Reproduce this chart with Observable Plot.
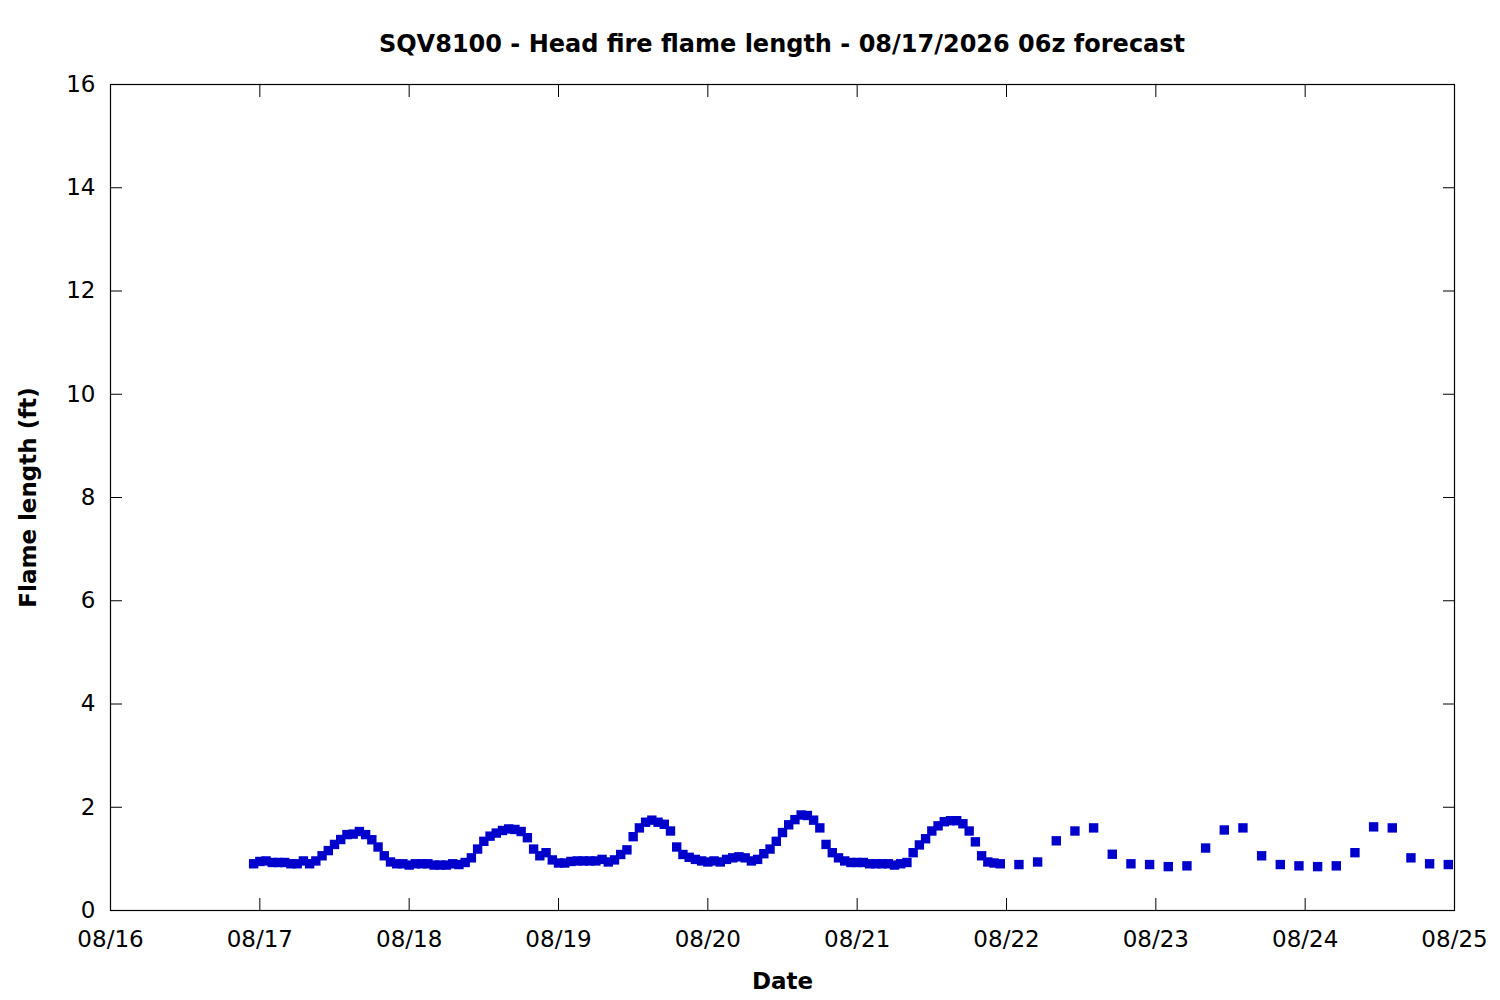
<!DOCTYPE html>
<html><head><meta charset="utf-8">
<script src="https://cdn.jsdelivr.net/npm/d3@7"></script>
<script src="https://cdn.jsdelivr.net/npm/@observablehq/plot@0.6"></script>
<style>
body{margin:0;background:#fff;font-family:"DejaVu Sans",sans-serif;}
#wrap{position:relative;width:1500px;height:1000px;}
#title{position:relative;height:60px;}
#title span{position:absolute;left:110px;width:1344px;top:32px;text-align:center;font:bold 24px/24px "DejaVu Sans";color:#000;white-space:nowrap;}
</style>
</head><body>
<div id="wrap"><div id="title"><span id="titletext"></span></div><div id="chart"></div></div>
<script>
const titleText = "SQV8100 - Head fire flame length - 08/17/2026 06z forecast";
const xLabel = "Date";
const yLabel = "Flame length (ft)";
const tickDates = ["2026-08-16","2026-08-17","2026-08-18","2026-08-19","2026-08-20","2026-08-21","2026-08-22","2026-08-23","2026-08-24","2026-08-25"];
const tickLabels = ["08/16","08/17","08/18","08/19","08/20","08/21","08/22","08/23","08/24","08/25"];
const yTicks = [0,2,4,6,8,10,12,14,16];

// hourly forecast, starting 08/16 23:00
const hourlyStart = "2026-08-16T23:00:00Z";
const hourlyFlame = [
  0.905,0.95,0.96,0.93,0.93,0.93,0.905,0.905,0.96,0.905,
  0.96,1.06,1.16,1.28,1.375,1.47,1.48,1.53,1.47,1.37,
  1.23,1.06,0.94,0.905,0.905,0.88,0.905,0.905,0.905,0.88,
  0.88,0.88,0.905,0.89,0.93,1.02,1.19,1.34,1.44,1.50,
  1.55,1.58,1.57,1.53,1.41,1.19,1.06,1.12,0.98,0.92,
  0.92,
  0.95,0.96,0.96,0.96,0.96,0.99,0.94,0.98,1.085,1.175,
  1.43,1.60,1.71,1.75,1.71,1.67,1.54,1.23,1.085,1.03,
  0.99,0.96,0.94,0.96,0.94,0.99,1.02,1.04,1.02,0.96,
  0.99,1.10,1.19,1.34,1.51,1.66,1.76,1.85,1.84,1.75,
  1.60,1.28,1.12,1.02,0.96,0.93,0.93,0.93,0.905,0.905,
  0.905,0.905,
  0.88,0.905,0.93,1.12,1.27,1.39,1.54,1.64,1.72,1.74,
  1.74,1.68,1.54,1.33,1.06,0.94,0.92,0.905
];
// 3-hourly forecast, starting 08/22 02:00
const threeHourlyStart = "2026-08-22T02:00:00Z";
const threeHourlyFlame = [
  0.89,0.94,1.35,1.54,1.60,1.09,0.905,0.89,
  0.85,0.865,1.21,1.56,1.60,1.06,0.89,0.865,
  0.85,0.865,1.12,1.62,1.60,1.02,0.905,0.89
];

document.getElementById("titletext").textContent = titleText;

const H = 3600e3;
const data = [
  ...hourlyFlame.map((v,i)=>({time:new Date(+new Date(hourlyStart)+i*H), flame:v})),
  ...threeHourlyFlame.map((v,i)=>({time:new Date(+new Date(threeHourlyStart)+i*3*H), flame:v}))
];
const ticks = tickDates.map(d=>new Date(d+"T00:00:00Z"));
const fmt = d => { const i = ticks.findIndex(t=>+t===+d); return i>=0 ? tickLabels[i] : ""; };

const chart = Plot.plot({
  width:1500, height:940,
  marginTop:24, marginRight:46, marginBottom:90, marginLeft:110,
  style:{fontFamily:"DejaVu Sans", fontSize:"23px", color:"black", background:"white"},
  x:{type:"utc", domain:[ticks[0], ticks[ticks.length-1]]},
  y:{domain:[0,16]},
  marks:[
    Plot.axisX({ticks, tickFormat:fmt, tickSize:-12, tickPadding:32, label:null}),
    Plot.axisX({anchor:"top", ticks, tickFormat:()=>"", tickSize:-12, label:null}),
    Plot.axisY({ticks:yTicks, tickSize:-12, tickPadding:27, label:null}),
    Plot.axisY({anchor:"right", ticks:yTicks, tickFormat:()=>"", tickSize:-12, label:null}),
    Plot.frame({stroke:"black", strokeWidth:1.2}),
    Plot.dot(data, {x:"time", y:"flame", symbol:"square", r:5.3, fill:"#0000cc"}),
    Plot.text([yLabel], {frameAnchor:"left", dx:-82, rotate:-90, textAnchor:"middle", fontWeight:"bold", fontSize:23}),
    Plot.text([xLabel], {frameAnchor:"bottom", dy:78, textAnchor:"middle", fontWeight:"bold", fontSize:23})
  ]
});
document.getElementById("chart").appendChild(chart);
</script>
</body></html>
